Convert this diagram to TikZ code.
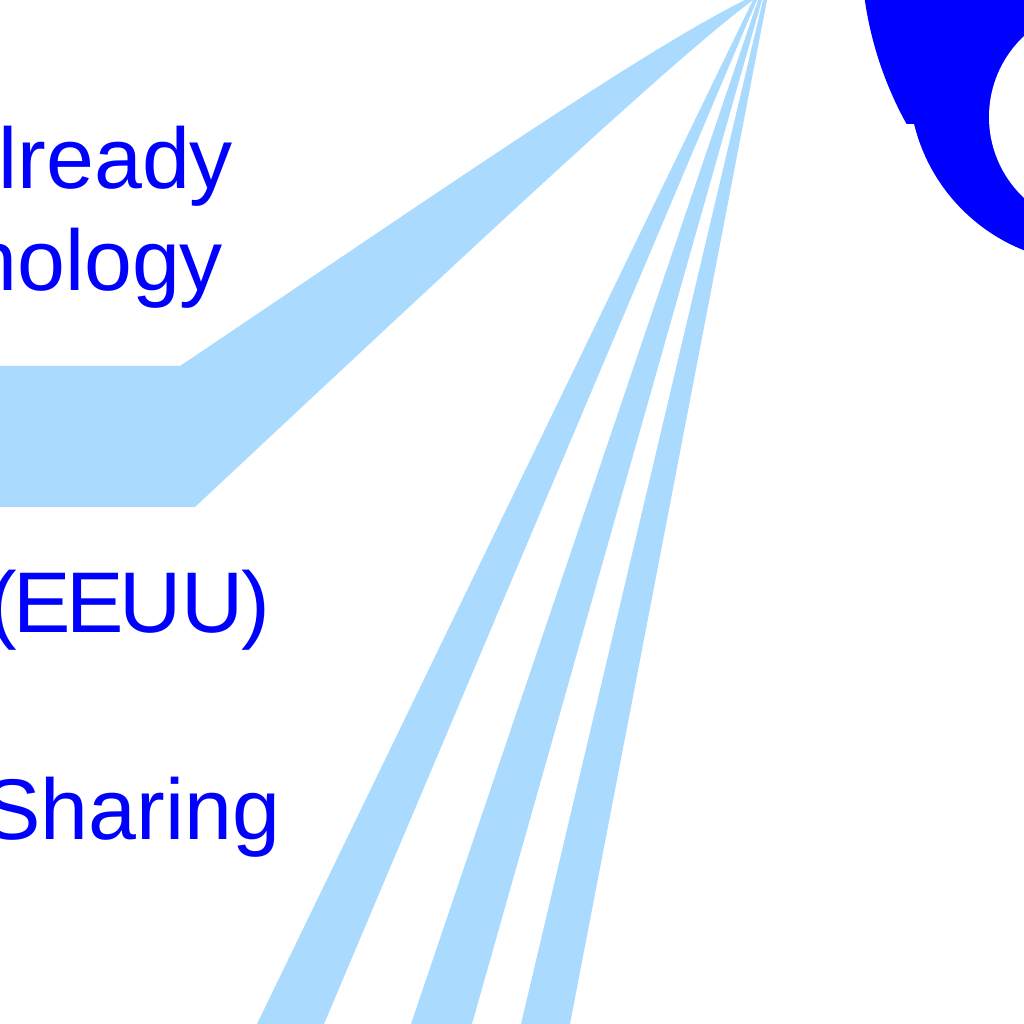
\documentclass[tikz,border=0pt]{standalone}
\usepackage{fontspec}
\setmainfont{Liberation Sans}
\definecolor{flowblue}{RGB}{170,219,255}
\definecolor{deepblue}{RGB}{0,0,255}
\begin{document}
\begin{tikzpicture}[
    flow/.style={fill=flowblue},
    lbl/.style={text=deepblue,inner sep=0pt,outer sep=0pt,anchor=base east,
      font=\fontsize{24.5pt}{29pt}\selectfont}]
  \useasboundingbox (0,0) rectangle (10.24,10.24);
  \clip (0,0) rectangle (10.24,10.24);
  \fill[flow] (0,6.58) -- (1.80,6.58) .. controls (4.30,8.26) and (6.40,9.72) .. (7.45,10.24)
    -- (7.53,10.24) .. controls (6.73,9.64) and (4.95,7.975) .. (1.95,5.17) -- (0,5.17) -- cycle;
  \fill[flow] (7.53,10.24) -- (7.57,10.24) -- (3.24,0) -- (2.57,0) -- cycle;
  \fill[flow] (7.58,10.24) -- (7.62,10.24) -- (4.72,0) -- (4.11,0) -- cycle;
  \fill[flow] (7.63,10.24) -- (7.67,10.24) -- (5.70,0) -- (5.21,0) -- cycle;
  \begin{scope}
    \clip (8,9.00) rectangle (10.24,10.24);
    \fill[deepblue] (12.27,10.77) circle (3.66);
  \end{scope}
  \fill[deepblue] (10.91,9.43) circle (1.82);
  \fill[white] (11.00,9.07) circle (1.11);
  \node[lbl] (ready) at (2.33,8.35) {lready};
  \node[lbl] (nology) at (2.23,7.33) {nology};
  \node[lbl] (eeuu) at (2.70,3.91) {(\kern-1.05pt E\kern-1.45pt E\kern-1.28pt UU\kern-0.63pt)};
  \node[lbl] (sharing) at (2.80,1.84) {Sharing};
\end{tikzpicture}
\end{document}
